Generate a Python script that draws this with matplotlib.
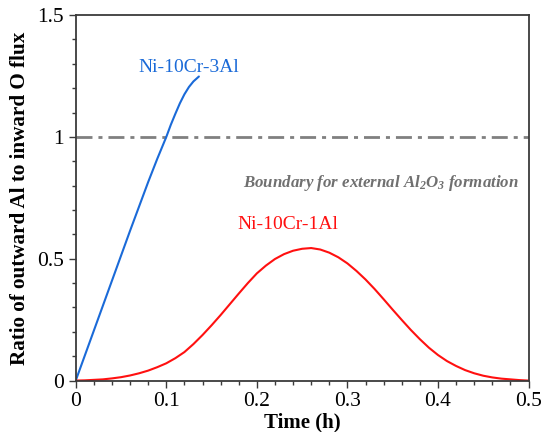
import matplotlib
matplotlib.use("Agg")
import matplotlib.pyplot as plt
from matplotlib.ticker import MultipleLocator, FixedFormatter, FixedLocator

# ---- data ----
t_3al = [0, 0.02, 0.04, 0.06, 0.08, 0.09, 0.10, 0.105, 0.11, 0.115, 0.12, 0.125, 0.13, 0.136]
r_3al = [0, 0.205, 0.41, 0.615, 0.815, 0.91, 1.00, 1.05, 1.095, 1.138, 1.175, 1.205, 1.228, 1.248]

t_1al = [0.00, 0.01, 0.02, 0.03, 0.04, 0.05, 0.06, 0.07, 0.08, 0.09,
         0.10, 0.11, 0.12, 0.13, 0.14, 0.15, 0.16, 0.17, 0.18, 0.19,
         0.20, 0.21, 0.22, 0.23, 0.24, 0.25, 0.26, 0.27, 0.28, 0.29,
         0.30, 0.31, 0.32, 0.33, 0.34, 0.35, 0.36, 0.37, 0.38, 0.39,
         0.40, 0.41, 0.42, 0.43, 0.44, 0.45, 0.46, 0.47, 0.48, 0.49, 0.50]
r_1al = [0.000, 0.001, 0.003, 0.005, 0.009, 0.014, 0.021, 0.030, 0.041, 0.055,
         0.071, 0.092, 0.117, 0.150, 0.187, 0.227, 0.269, 0.313, 0.357, 0.400,
         0.440, 0.472, 0.499, 0.519, 0.533, 0.541, 0.544, 0.538, 0.525, 0.506,
         0.481, 0.450, 0.415, 0.376, 0.334, 0.291, 0.249, 0.208, 0.170, 0.135,
         0.105, 0.080, 0.060, 0.043, 0.030, 0.020, 0.013, 0.008, 0.005, 0.002, 0.000]

boundary_value = 1.0
x_ticks = [0, 0.1, 0.2, 0.3, 0.4, 0.5]
x_ticklabels = ["0", "0.1", "0.2", "0.3", "0.4", "0.5"]
y_ticks = [0, 0.5, 1.0, 1.5]
y_ticklabels = ["0", "0.5", "1", "1.5"]

label_3al = "Ni-10Cr-3Al"
label_1al = "Ni-10Cr-1Al"
boundary_text = r"Boundary for external Al$_2$O$_3$ formation"

# ---- style ----
plt.rcParams['font.family'] = ['Liberation Serif', 'DejaVu Serif']
plt.rcParams['mathtext.fontset'] = 'custom'
plt.rcParams['mathtext.rm'] = 'Liberation Serif:italic:bold'
plt.rcParams['mathtext.it'] = 'Liberation Serif:italic:bold'
plt.rcParams['mathtext.bf'] = 'Liberation Serif:italic:bold'
plt.rcParams['lines.scale_dashes'] = False

blue = '#1a6ad8'
red = '#ff1010'
gray = '#808080'
spine_c = '#3a3a3a'

fig = plt.figure(figsize=(5.46, 4.32), dpi=100)
ax = fig.add_axes([0.1387, 0.119, 0.8293, 0.846])

ax.axhline(boundary_value, color=gray, lw=2.0, dashes=(11.5, 4.3, 2.9, 4.3))
ax.plot(t_3al, r_3al, color=blue, lw=1.5, solid_capstyle='round')
ax.plot(t_1al, r_1al, color=red, lw=1.5)

ax.text(0.125, 1.287, label_3al, color=blue, fontsize=14, ha='center', va='center')
ax.text(0.2345, 0.639, label_1al, color=red, fontsize=14, ha='center', va='center')
ax.text(0.337, 0.811, boundary_text, color='#707070', fontsize=12.2,
        fontweight='bold', fontstyle='italic', ha='center', va='center')

ax.set_xlim(0, 0.5)
ax.set_ylim(0, 1.5)
ax.xaxis.set_major_locator(FixedLocator(x_ticks))
ax.xaxis.set_major_formatter(FixedFormatter(x_ticklabels))
ax.yaxis.set_major_locator(FixedLocator(y_ticks))
ax.yaxis.set_major_formatter(FixedFormatter(y_ticklabels))
ax.xaxis.set_minor_locator(MultipleLocator(0.02))
ax.yaxis.set_minor_locator(MultipleLocator(0.1))

for s in ax.spines.values():
    s.set_color(spine_c)
    s.set_linewidth(1.3)

ax.tick_params(which='major', direction='out', length=5, width=1.0, color=spine_c,
               labelsize=15.5, pad=3.5)
ax.tick_params(which='minor', direction='out', length=2.8, width=1.0, color=spine_c)
ax.tick_params(top=False, right=False, which='both')

ax.set_xlabel("Time (h)", fontsize=15, fontweight='bold', labelpad=1)
ax.set_ylabel("Ratio of outward Al to inward O flux", fontsize=15.2, fontweight='bold', labelpad=5)

fig.savefig("out.png", dpi=100)
